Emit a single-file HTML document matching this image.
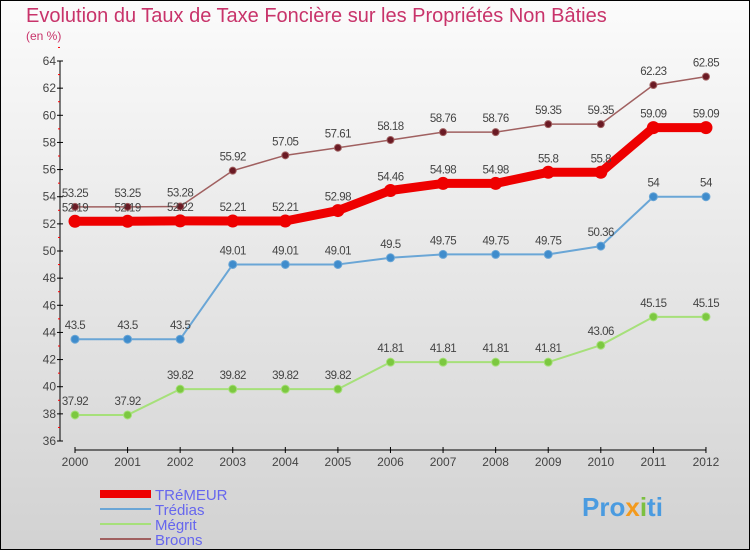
<!DOCTYPE html>
<html><head><meta charset="utf-8"><style>
html,body{margin:0;padding:0}
body{width:750px;height:550px;overflow:hidden}
svg{display:block;font-family:"Liberation Sans",sans-serif}
</style></head><body>
<svg id="chart" width="750" height="550" xmlns="http://www.w3.org/2000/svg">
<defs><linearGradient id="bg" x1="0" y1="0" x2="0" y2="1"><stop offset="0" stop-color="#fbfbfb"/><stop offset="1" stop-color="#d2d2d2"/></linearGradient></defs>
<rect x="0.5" y="0.5" width="749" height="549" fill="url(#bg)" stroke="#000"/>
<text x="26" y="22" font-size="20" fill="#c8336a">Evolution du Taux de Taxe Foncière sur les Propriétés Non Bâties</text>
<text x="26" y="40" font-size="12" fill="#c8336a">(en %)</text>
<g id="axes"></g><g id="series"></g><g id="legend"></g>
<text x="582" y="516" font-size="26" font-weight="bold" fill="#4a9be0">Pro<tspan fill="#f39a1d">x</tspan><tspan fill="#7cc040">i</tspan>ti</text>
</svg>
<script>
const years=["2000","2001","2002","2003","2004","2005","2006","2007","2008","2009","2010","2011","2012"];
const yTicks=[36,38,40,42,44,46,48,50,52,54,56,58,60,62,64];
const tremeur=[52.19,52.19,52.22,52.21,52.21,52.98,54.46,54.98,54.98,55.8,55.8,59.09,59.09];
const tredias=[43.5,43.5,43.5,49.01,49.01,49.01,49.5,49.75,49.75,49.75,50.36,54,54];
const megrit=[37.92,37.92,39.82,39.82,39.82,39.82,41.81,41.81,41.81,41.81,43.06,45.15,45.15];
const broons=[53.25,53.25,53.28,55.92,57.05,57.61,58.18,58.76,58.76,59.35,59.35,62.23,62.85];
const NS="http://www.w3.org/2000/svg";
const X=i=>75+i*52.58;
const Y=v=>441-(v-36)*13.571;
function mk(t,a,p){const e=document.createElementNS(NS,t);for(const k in a)e.setAttribute(k,a[k]);p.appendChild(e);return e;}
const ax=document.getElementById('axes');
let l=mk('line',{x1:60,y1:Y(64),x2:60,y2:Y(36),stroke:'#000'},ax);


yTicks.forEach(v=>{
 mk('line',{x1:57,y1:Y(v),x2:63,y2:Y(v),stroke:'#000'},ax);
 mk('line',{x1:58,y1:Y(v+1),x2:60,y2:Y(v+1),stroke:'#f00'},ax);
 const t=mk('text',{x:56,y:Y(v)+4,'font-size':12,fill:'#444','text-anchor':'end'},ax);t.textContent=v;
 
 
});
l=mk('line',{x1:X(0),y1:450,x2:X(12),y2:450,stroke:'#000'},ax);


years.forEach((y,i)=>{
 mk('line',{x1:X(i),y1:447,x2:X(i),y2:453,stroke:'#000'},ax);
 const t=mk('text',{x:X(i),y:466,'font-size':12,fill:'#444','text-anchor':'middle'},ax);t.textContent=y;
 
 
});
const sg=document.getElementById('series');
function series(vals,name,color,dot,w,r,lblDy){
 const g=mk('g',{},sg);
 
 
 const p=mk('polyline',{points:vals.map((v,i)=>X(i)+','+Y(v)).join(' '),fill:'none',stroke:color,'stroke-width':w,'stroke-linejoin':'round'},g);
 
 
 vals.forEach((v,i)=>{
  const c=mk('circle',{cx:X(i),cy:Y(v),r:r,fill:dot,stroke:color,'stroke-width':1},g);
  
  
  const t=mk('text',{x:X(i),y:Y(v)+lblDy,'font-size':11.5,fill:'#444','text-anchor':'middle','letter-spacing':'-0.5'},g);t.textContent=v;
  
  
 });
}
series(megrit,'megrit','#a6e07a','#7cc840',2,4,-10);
series(tredias,'tredias','#6aa6d6','#3f8ccc',2,4,-10);
series(broons,'broons','#a06060','#6a1a24',1.5,3.5,-10);
series(tremeur,'tremeur','#ee0000','#ee0000',9,6,-10);
const lg=document.getElementById('legend');
[['TRéMEUR','#ee0000',8],['Trédias','#6aa6d6',2],['Mégrit','#a6e07a',2],['Broons','#a06060',2]].forEach((d,i)=>{
 const y=492+i*15;
 const g=mk('g',{},lg);
 
 
 mk('line',{x1:100,y1:y+2,x2:151,y2:y+2,stroke:d[1],'stroke-width':d[2]},g);
 const t=mk('text',{x:155,y:y+8,'font-size':15,fill:'#6666ee'},g);t.textContent=d[0];
});
</script>
</body></html>
